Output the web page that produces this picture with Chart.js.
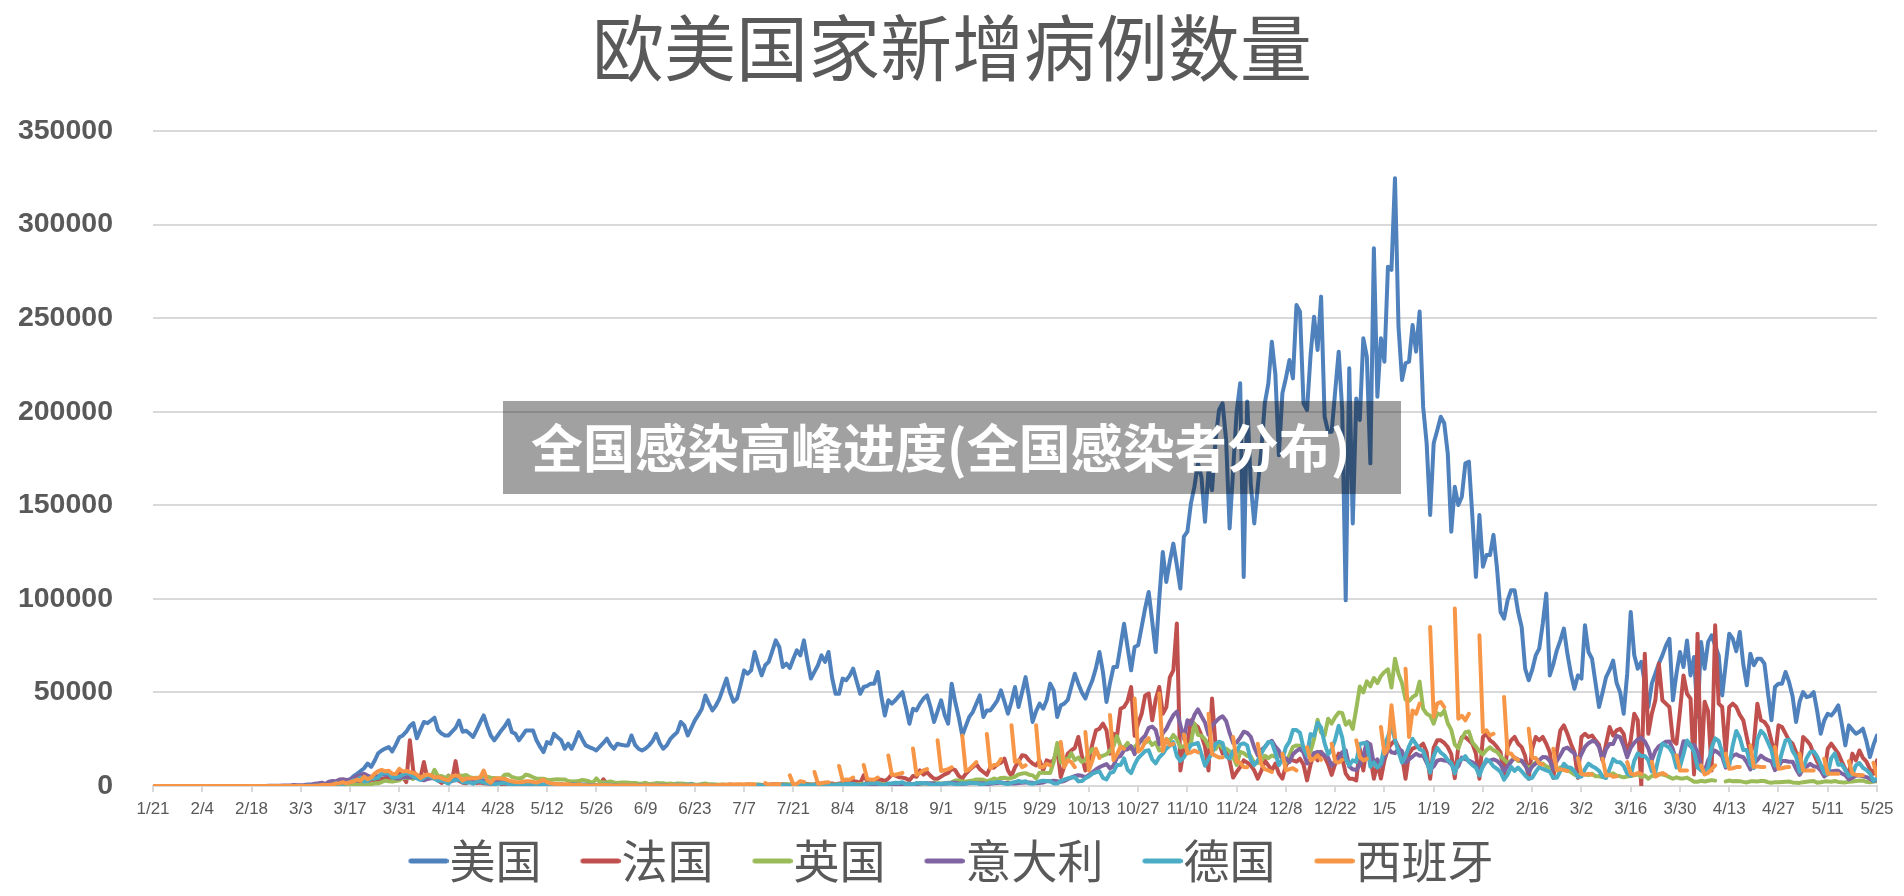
<!DOCTYPE html>
<html>
<head>
<meta charset="utf-8">
<script src="https://cdn.jsdelivr.net/npm/chart.js@4.4.1/dist/chart.umd.min.js"></script>
<style>
  html, body { margin: 0; padding: 0; background: #fff; }
  #wrap { width: 1904px; height: 896px; }
</style>
</head>
<body>
<div id="wrap"><canvas id="chart" width="1904" height="896"></canvas></div>
<script>
// Daily new cases, 2020-01-21 .. 2021-05-25 (one line per week, Mon..Sun)
const titleText = '欧美国家新增病例数量';
const bannerText = '全国感染高峰进度(全国感染者分布)';
const countryNames = ['美国', '法国', '英国', '意大利', '德国', '西班牙'];
const tickLabels = ['1/21','2/4','2/18','3/3','3/17','3/31','4/14','4/28','5/12','5/26','6/9','6/23',
  '7/7','7/21','8/4','8/18','9/1','9/15','9/29','10/13','10/27','11/10','11/24','12/8','12/22',
  '1/5','1/19','2/2','2/16','3/2','3/16','3/30','4/13','4/27','5/11','5/25'];

const usCases = [
  0,0,0,0,0,0,
  0,0,0,0,0,0,0,
  0,0,0,0,0,0,0,
  0,0,0,0,0,0,0,
  0,0,0,0,0,0,0,
  0,0,0,2,5,8,12,
  20,40,60,80,100,130,200,
  250,300,450,600,900,1300,1600,
  2500,3500,5200,6500,8000,9500,12000,
  10200,13500,17500,19000,20000,20800,18500,
  22000,26000,27000,29000,32000,33600,25500,
  30000,34200,33600,35000,36500,30000,28000,
  27000,27000,29000,31000,35000,29000,29500,
  28000,26200,30000,34000,37700,32000,27000,
  24400,27000,29700,32000,35100,28800,27900,
  24400,27000,29700,29700,29700,24400,21000,
  18100,23500,22600,27900,26000,24400,19900,
  22600,19900,24000,28800,25000,21700,20800,
  20000,19000,21000,23000,25300,22000,19900,
  22600,22000,21700,21700,27000,22000,19900,
  19000,20000,21700,24000,27900,23000,19900,
  21700,25000,27000,28800,34200,32400,27000,
  31000,35100,38000,41300,48400,44000,40400,
  43000,46700,52000,57400,50000,45000,46700,
  54000,61800,60000,61800,71600,65000,59100,
  64500,66300,72000,77800,74300,63600,65400,
  63100,68000,72500,69800,77800,67000,57400,
  61000,64500,69800,66300,71600,58000,49300,
  49300,57400,56500,59000,62700,56000,49300,
  52900,53500,54700,54700,60900,48000,37700,
  45800,44000,45800,48000,50200,42000,33300,
  41300,40400,44000,46700,48400,42000,34200,
  40000,45800,38000,33300,54700,45000,36900,
  27000,32000,36900,39500,44000,48400,36900,
  40400,40400,43000,45800,51100,45000,38600,
  45000,52900,42200,50000,58200,47500,34200,
  40000,44000,41300,45800,54700,51100,36900,
  43100,44000,46000,53000,60000,54700,50000,
  46700,52000,56500,63000,71600,60900,44900,
  55000,63600,63600,75000,86700,74000,61800,
  74300,75200,85000,95000,103700,88000,71600,
  100000,125000,109000,120000,129500,118000,105500,
  133200,135900,151000,160000,172400,165000,141200,
  168800,158100,184900,200900,204500,184900,137600,
  168800,200000,215200,111700,205400,161700,140300,
  160000,179500,204500,215000,237400,220000,176800,
  209800,218000,227600,217800,257000,253500,204500,
  200900,230000,250800,233000,261500,197300,189300,
  189300,210700,232100,200900,99200,223200,140300,
  207100,195600,239200,229400,172400,287300,208000,
  239200,226700,277500,275800,324800,245500,217000,
  225900,226700,246300,232100,253500,202700,183100,
  144800,183100,190000,197300,193800,177700,135900,
  159900,150100,154600,172400,173300,143900,111700,
  144800,117200,123400,123400,134200,116300,93000,
  89400,99200,104600,104600,93000,85000,62700,
  56500,62000,69800,73400,86700,102800,59100,
  65000,72500,77800,84100,70700,60000,52000,
  59100,57400,85900,71600,68000,55000,42200,
  50000,58200,62000,67000,55000,50000,38600,
  60000,93000,70000,62700,66300,55000,42200,
  54700,60000,65400,69800,75000,78700,45800,
  60000,71600,63600,77800,59100,68900,36900,
  77000,62700,77000,80500,75000,69800,48400,
  65000,81400,78700,72000,82300,65000,53800,
  70700,64500,68000,68000,65400,50000,35100,
  52900,54700,54700,60900,55600,48000,34200,
  45000,50200,47500,48000,50200,40000,27900,
  35000,38600,37700,40000,43100,33000,21700,
  32400,30000,27900,29000,30600,24000,15500,
  22000,27000
];

const franceCases = [
  0,0,0,0,0,0,
  0,0,0,0,0,0,0,
  0,0,0,0,0,0,0,
  0,0,0,0,0,0,0,
  0,0,0,0,0,0,0,
  0,0,4,20,0,43,30,
  60,20,73,138,190,336,177,
  286,372,497,595,785,838,924,
  1210,1097,1404,1861,1617,1847,1559,
  3838,2446,2931,3922,3809,4611,2599,
  4376,7578,4861,2116,24400,7788,5233,
  4267,12800,3777,4286,4342,3114,1613,
  2673,5497,2633,13300,2641,1773,1470,
  2489,2667,1653,1827,1500,1400,1100,
  1100,2900,1000,800,1200,1100,1000,
  600,1100,1600,1300,1300,580,900,
  480,800,1000,600,800,400,600,
  100,800,500,900,600,300,400,
  350,400,400,3600,1100,800,400,
  300,600,700,500,600,500,350,
  300,400,500,550,600,500,300,
  250,450,500,450,550,400,300,
  300,500,550,600,600,450,300,
  400,600,700,600,800,500,300,
  500,600,800,700,600,700,400,
  400,700,900,1000,800,900,500,
  700,1200,1000,1100,1400,1100,800,
  1000,1400,1400,1400,1300,1400,1000,
  1300,1800,1600,2500,2700,2300,1500,
  5700,2500,2800,3100,3500,3400,2600,
  4000,6200,5600,4700,4500,4000,3000,
  5400,4900,8300,6100,7400,5400,3900,
  3900,5000,6200,7000,9200,8500,5400,
  3900,6500,8500,10100,11600,9000,7500,
  6000,10100,9800,11600,12500,14600,8300,
  5300,10000,13000,16400,16000,13700,12000,
  11000,13700,8300,13700,12800,13700,19900,
  4800,10500,17300,19000,20300,26200,16000,
  8300,13700,22500,29700,30600,33300,29800,
  17300,27900,26700,41300,42200,45400,52900,
  26800,33400,38600,48400,49400,35100,46300,
  52900,38600,42000,58000,61800,86800,8300,
  20000,22200,35100,33000,31500,27000,21000,
  8300,46700,21800,22800,17300,17900,13700,
  4500,7500,10100,13700,12500,11000,8300,
  3900,8000,13700,11000,8300,12000,6600,
  3900,11000,14000,13700,13000,14600,11500,
  3000,11500,17300,13700,18200,15500,11600,
  5900,11800,17300,15000,6600,3900,3900,
  3000,19900,8300,20800,15000,3900,12000,
  4000,13700,20000,22600,24400,20800,16000,
  3900,17300,20000,20800,21000,22600,18000,
  3900,20400,24400,24400,23000,20800,17000,
  4200,20800,26000,26200,24400,22600,17300,
  3900,26200,27900,24400,23000,20800,18000,
  4300,20600,24400,26200,22600,20800,16000,
  3900,20000,26200,24400,26200,22600,18000,
  4300,18400,29700,32400,27900,22600,18000,
  4300,26200,27900,26200,27000,24400,22000,
  13700,22600,31500,27000,29700,30600,27900,
  17300,24400,38600,35100,0,70700,27900,
  38600,45800,65400,45800,44000,42200,24400,
  22600,40000,59100,49300,46700,6200,81400,
  8300,45000,40000,8300,85900,44000,42200,
  17300,42200,44000,42200,38000,35100,26000,
  17300,22600,44000,35100,34200,31500,24000,
  15500,32400,31500,28000,24400,22600,18000,
  8300,26200,24400,22000,17300,13000,10000,
  6000,19900,22600,20000,17300,13000,9000,
  6600,17300,13700,19000,15000,13000,9000,
  6600,13700
];

const ukCases = [
  0,0,0,0,0,0,
  0,0,0,0,2,0,0,
  0,0,0,0,0,0,0,
  0,0,0,0,0,0,0,
  0,0,0,0,0,0,0,
  0,0,3,0,5,12,10,
  13,4,11,34,29,48,43,
  67,48,52,83,134,117,174,
  152,407,676,643,714,1035,665,
  967,1427,1452,2129,2885,2546,2433,
  2619,3009,4324,4244,4450,3735,5903,
  3802,3634,5491,4344,8681,5233,5288,
  4342,5252,4603,4617,5599,5525,5850,
  4676,4301,4451,4583,5386,4913,4463,
  4309,3996,4076,6032,6201,4806,4339,
  3985,4406,6111,5614,4649,3896,3923,
  3877,3403,3242,3446,3560,3450,3534,
  2684,2412,2472,2615,3287,2959,2409,
  1625,4043,2004,2013,1887,2445,1936,
  1570,1871,1871,1805,1650,1557,1326,
  1205,1741,1003,1266,1541,1425,1514,
  1056,1279,1115,1346,1295,1221,958,
  1221,874,653,1118,1380,890,901,
  815,689,829,576,624,516,582,
  352,581,630,512,642,820,650,
  530,538,726,463,687,827,1036,
  827,445,560,769,768,767,747,
  685,581,763,846,880,743,744,
  938,670,891,950,871,758,1062,
  1148,1009,1182,1033,1441,1012,1040,
  713,1089,812,1182,1033,1288,1041,
  853,1184,1048,1522,1276,1108,1715,
  1406,1295,1508,1735,1940,2988,2948,
  2460,2420,2659,2919,3539,3497,3330,
  2621,3105,3991,3395,4322,4422,3899,
  4368,4926,6178,6634,6874,6042,5693,
  4044,7143,7108,6914,6968,12872,22961,
  12594,14542,14162,17540,13864,15166,12847,
  13972,17234,19724,18980,15650,16171,16982,
  18804,21331,26688,21242,20530,23012,19790,
  20890,22885,24701,23065,24405,21915,23254,
  18950,20018,25177,24141,27301,24957,20572,
  21350,20412,22950,33470,27301,26860,24962,
  21363,20051,19609,22915,20252,19875,18662,
  15450,11299,18213,17555,16022,15871,12155,
  12330,13430,16170,14879,16298,15539,17272,
  14718,12282,16578,20964,21672,21502,18447,
  20263,18450,25161,35383,28507,27052,35928,
  33364,36804,39237,39036,32725,34693,30501,
  41385,53135,50023,55892,53285,57725,54990,
  58784,60916,62322,52618,68053,59937,54940,
  46169,45533,47525,48682,55761,41346,38598,
  37535,33355,38905,37892,40261,33552,30004,
  22195,20089,25308,28680,29079,23275,21088,
  18607,16840,19202,20634,19114,18262,15845,
  14104,12364,13494,15144,13308,13313,10972,
  9765,10625,12718,12057,12027,10406,9834,
  10641,8489,9938,9985,8523,7434,6035,
  5455,6391,6385,5766,6573,5177,5177,
  4712,5766,5926,6753,5534,5177,4618,
  5089,5294,5758,6303,4802,5587,3862,
  5342,5379,6397,6187,5605,4715,3862,
  4654,4040,4052,4479,3402,2297,2297,
  2762,2379,2763,3150,2874,null,null,
  2472,2963,2491,2672,2596,2206,1882,
  2524,2524,2396,2729,2678,2026,1730,
  2064,1989,2166,2261,2381,1907,1671,
  1649,2052,2284,2490,2613,1770,1979,
  2357,2474,2284,2657,2193,2027,1926,
  2240,2412,2696,2874,2829,2235,1979,
  2439,2493
];

const italyCases = [
  0,0,0,0,0,0,
  0,0,0,0,2,0,0,
  0,0,0,0,0,0,1,
  0,0,0,0,0,0,0,
  0,0,0,0,17,59,76,
  74,93,131,202,233,240,566,
  342,466,587,769,778,1247,1492,
  1797,977,2313,2651,2547,3497,3590,
  3233,3526,4207,5322,5986,6557,5560,
  4789,5249,5210,6203,5909,5974,5217,
  4050,4053,4782,4668,4585,4805,4316,
  3599,3039,3836,4204,3951,4694,4092,
  3153,2972,2667,3786,3493,3491,3047,
  2256,2729,3370,2646,3021,2357,2324,
  1739,2091,2086,1872,1965,1900,1389,
  1221,1075,1444,1401,1327,1083,802,
  744,1402,888,992,789,875,675,
  451,813,665,642,652,669,531,
  300,397,584,593,516,416,355,
  178,318,321,177,518,270,197,
  280,283,202,379,163,346,338,
  301,210,329,333,251,262,224,
  218,122,190,296,259,175,174,
  126,142,187,201,223,235,192,
  208,138,193,229,276,188,234,
  169,114,162,230,233,249,219,
  190,129,282,306,252,275,255,
  170,181,212,289,386,379,295,
  239,190,384,402,552,347,463,
  259,412,481,523,574,629,479,
  320,403,642,845,947,1071,1210,
  953,878,1367,1411,1462,1444,1365,
  996,978,1326,1397,1733,1695,1297,
  1108,1370,1434,1597,1616,1501,1458,
  1008,1229,1452,1585,1907,1638,1587,
  1350,1392,1640,1786,1912,1869,1766,
  1494,1648,1851,2548,2499,2844,2578,
  2257,2677,3678,4458,5372,5724,5456,
  4619,5901,7332,8804,10010,10925,11705,
  9338,10874,15199,16079,19143,19644,21273,
  17012,21994,24991,26831,31084,31758,29907,
  22253,28244,30550,34505,37809,39811,32616,
  25271,35098,32961,37978,40902,37255,33979,
  27354,32191,34282,36176,37242,34767,28337,
  22930,23232,25853,29003,28352,26323,20648,
  16377,19350,20709,23225,24099,21052,18887,
  13720,14842,12756,16999,18727,19903,17938,
  12030,14844,17572,18236,17992,16308,15104,
  10872,13318,14522,18040,19037,10407,8913,
  8585,11212,16202,23477,22211,11831,14245,
  10800,15378,20331,18020,17533,19978,18627,
  12532,14242,15774,17246,16146,16310,12545,
  8824,10497,13571,14078,13633,13331,11629,
  8561,10593,15204,14372,13574,12715,11252,
  7925,10630,13189,13659,14218,13442,11641,
  7970,10404,12956,15146,14111,13532,11068,
  7351,10386,12074,13762,15479,15370,13452,
  8824,13314,16424,19886,20499,18916,17455,
  13114,17083,20884,22865,24036,23641,20765,
  13902,19749,22409,22409,26824,26062,21315,
  15267,20396,23059,24935,25735,23832,20159,
  13846,18765,21267,22339,23696,23839,19611,
  12916,16017,23904,23649,21261,21932,18025,
  10680,7767,13708,17221,18938,17567,15746,
  9789,13447,16168,16974,15943,15370,12694,
  8864,12074,13844,16232,14761,13817,13158,
  8444,10404,13385,13382,12965,12965,9148,
  5948,9116,10404,11807,10554,10176,8292,
  5080,6946,7852,8085,8085,6659,5753,
  3455,4452,5506,5741,5218,4717,3995,
  2490,3224
];

const germanyCases = [
  0,0,0,0,0,0,
  0,1,3,0,1,0,0,
  0,0,0,0,0,0,0,
  0,0,0,0,0,0,0,
  0,0,0,0,0,0,0,
  0,1,10,19,2,31,51,
  29,37,66,220,188,129,241,
  136,281,451,170,1597,910,1210,
  1477,1985,3070,2993,4528,2365,2660,
  4183,3930,4337,6615,6933,6824,4400,
  4790,4923,6064,6922,6365,4933,4031,
  3251,4289,5633,4885,3990,2737,2946,
  2218,1287,3394,2945,3699,1945,1842,
  1881,1226,2357,2481,1870,1514,1257,
  988,1154,1627,1470,1068,890,697,
  685,947,1284,1209,1251,667,1251,
  357,933,1157,1049,1068,620,583,
  342,685,797,460,745,638,431,
  289,432,353,741,738,620,301,
  286,213,342,394,507,407,301,
  214,350,555,192,770,241,252,
  192,345,580,770,601,687,537,
  1006,503,587,630,477,256,262,
  298,466,503,446,420,239,219,
  358,397,442,380,530,396,159,
  159,583,534,395,583,466,261,
  249,454,570,815,781,305,340,
  633,684,902,870,955,240,509,
  879,741,1045,1147,1122,555,436,
  966,1226,1445,1449,1415,625,561,
  1390,1510,1707,1586,2034,784,1278,
  711,1576,1507,1571,1479,782,610,
  1218,1256,1311,1453,1378,988,814,
  1499,1176,1892,1484,1630,941,1106,
  1407,1901,1769,2194,1917,1345,922,
  1769,2089,2673,2153,2507,1411,1192,
  1798,2503,2844,2673,2563,1382,1306,
  2639,3390,4058,4516,4721,2467,2639,
  4122,5132,6638,7334,7830,4325,3483,
  6868,7595,11287,11242,14714,8685,6868,
  11409,14964,16774,18681,19059,14177,12097,
  15352,17214,19990,21506,23399,16017,13363,
  15332,18487,21866,22461,22964,16947,10824,
  14419,17561,22609,23648,22964,15741,14611,
  18633,18350,22268,22806,21695,14054,11169,
  13604,17270,20815,23449,23318,17767,11169,
  14054,20815,23679,29875,29875,28438,20200,
  16362,27728,26923,33777,31300,22771,17000,
  19528,24740,32195,26000,14455,10976,13755,
  12892,22459,22924,22909,10315,12690,9847,
  11897,21237,26391,31849,24694,18218,12497,
  15974,21237,25164,22368,19600,18678,13882,
  7141,15974,20398,17862,16417,13882,12257,
  6729,13202,14211,15974,12908,11192,9847,
  5608,10566,14211,12908,10485,9164,7520,
  3379,6114,10237,8072,9860,7862,5608,
  3856,4426,7556,10207,9113,8354,7676,
  4369,4426,8007,11869,9997,9762,7890,
  4732,5011,9019,11912,10580,9557,8103,
  5011,4252,9146,14356,12834,12674,10790,
  6604,5480,13435,17504,16033,16033,13733,
  7709,7485,15813,22657,21573,20472,17176,
  9872,10360,17051,24300,21888,18129,9872,
  8497,6885,9677,20407,25464,24097,17855,
  10633,10810,21693,29426,25831,19185,19185,
  11437,9609,24884,29518,27543,23392,19185,
  10976,10976,18034,24329,24736,18773,15685,
  7534,9160,14909,18034,18485,15685,11476,
  6922,6125,14909,17419,11336,11476,8500,
  5412,6125,11040,12298,9769,8500,6714,
  2682,4209
];

// Spain stopped weekend reporting in summer 2020: Sat/Sun are gaps, Monday carries the weekend
const spainCases = [
  0,0,0,0,0,0,
  0,0,0,0,0,0,0,
  0,0,0,0,0,0,0,
  0,0,0,0,0,0,0,
  0,0,0,0,0,0,0,
  0,2,4,5,8,13,27,
  30,45,37,57,66,116,124,
  500,500,600,800,1300,1500,2000,
  1438,1987,2538,3431,2833,4946,3646,
  4517,6584,7937,8578,7871,8189,6549,
  6398,9222,7719,8102,7472,7026,6023,
  4273,5478,6180,5756,4576,4830,4167,
  3477,3045,5103,5700,5200,3000,4000,
  4000,4200,4200,4600,8300,2900,1700,
  3900,4200,4000,3800,3000,2500,2100,
  2000,2100,2600,2500,2200,1800,2500,
  3400,2000,1500,1200,1100,900,900,
  900,600,500,700,500,400,300,
  300,400,400,500,500,400,300,
  300,400,400,350,400,350,300,
  300,350,400,350,400,300,250,
  300,350,400,450,400,350,300,
  350,400,400,450,500,400,300,
  400,500,600,700,800,800,900,
  900,800,900,900,900,null,null,
  1500,700,800,900,1000,null,null,
  5700,800,1300,2600,2200,null,null,
  7500,1200,1500,1900,2000,null,null,
  10700,3000,3500,3400,4500,null,null,
  11200,3600,3500,3400,4500,null,null,
  16300,6000,6000,6500,7000,null,null,
  20000,6000,7000,8300,9000,null,null,
  24400,8000,8500,9000,10000,null,null,
  27000,8000,9000,10800,12800,null,null,
  27800,9400,11200,11300,14400,null,null,
  32400,12800,13700,10100,11000,null,null,
  32400,10100,10100,11900,11000,null,null,
  23500,10100,13700,12800,10100,null,null,
  28800,8300,13700,19900,15000,null,null,
  38000,13900,17000,21000,19900,null,null,
  46700,18400,19800,23600,25600,null,null,
  49300,18700,25000,21900,22500,null,null,
  27500,17400,17900,19000,18000,null,null,
  38600,17000,16200,15200,15300,null,null,
  26200,13000,12300,10200,10000,null,null,
  22600,11700,9000,8300,7500,null,null,
  17300,8300,9000,9500,8300,null,null,
  20800,13700,14600,16400,14000,null,null,
  22600,13000,12500,14000,null,null,null,
  24400,15500,13700,14500,null,null,null,
  31500,17300,20000,43100,26200,null,null,
  62700,26200,40400,38600,44000,null,null,
  84900,36900,44000,44900,42200,null,null,
  94800,36000,37500,35100,38600,null,null,
  80500,28800,29700,27000,27900,null,null,
  47500,17300,17300,15000,14000,null,null,
  30600,15000,15000,12000,11500,null,null,
  19900,8300,9000,8500,8000,null,null,
  15000,6500,6000,6500,6000,null,null,
  14600,5500,6000,5000,5200,null,null,
  12800,6600,6000,7000,6500,null,null,
  13000,5000,6000,7000,6000,null,null,
  16400,8300,8300,8300,null,null,null,
  11000,6200,7000,9000,11000,null,null,
  17300,9200,9500,10100,10100,null,null,
  21700,10100,10500,10100,10100,null,null,
  20800,9200,9500,10000,10100,null,null,
  17300,8300,8300,8300,8300,null,null,
  14600,6600,6600,6600,6600,null,null,
  13300,6600,6000,5700,5700,null,null,
  12400,5500
];

const seriesColors = ['#4F81BD', '#C0504D', '#9BBB59', '#8064A2', '#4BACC6', '#F79646'];
const allSeries = [usCases, franceCases, ukCases, italyCases, germanyCases, spainCases];
const dayIndex = usCases.map((_, i) => i);

// short rounded line for the legend key, drawn near the right end of its canvas
// so that it sits right against the label text
function legendKey(color) {
  const c = document.createElement('canvas');
  c.width = 82;
  c.height = 10;
  const g = c.getContext('2d');
  g.strokeStyle = color;
  g.lineWidth = 5;
  g.lineCap = 'round';
  g.beginPath();
  g.moveTo(44.5, 5);
  g.lineTo(79.5, 5);
  g.stroke();
  return c;
}
const legendKeys = seriesColors.map(legendKey);

const banner = {
  id: 'banner',
  // the keys leave an empty strip on the left of each item; pull the row back to centre
  afterLayout(chart) {
    chart.legend.left -= 11;
    chart.legend.right -= 11;
  },
  afterDraw(chart) {
    const ctx = chart.ctx;
    ctx.save();
    ctx.fillStyle = 'rgba(0,0,0,0.37)';
    ctx.fillRect(503, 401, 898, 93);
    ctx.fillStyle = '#ffffff';
    ctx.font = 'bold 52px "Noto Sans CJK SC"';
    ctx.textBaseline = 'middle';
    ctx.textAlign = 'left';
    ctx.fillText(bannerText, 531, 448);
    ctx.restore();
  }
};

const datasets = allSeries.map((values, i) => ({
  label: countryNames[i],
  data: values,
  yAxisID: 'y',
  borderColor: seriesColors[i],
  backgroundColor: seriesColors[i],
  borderWidth: 4,
  pointRadius: 0,
  tension: 0,
  fill: false,
  spanGaps: false,
  borderJoinStyle: 'round',
  borderCapStyle: 'round',
  order: allSeries.length - i
}));

new Chart(document.getElementById('chart'), {
  type: 'line',
  data: { labels: dayIndex, datasets },
  plugins: [banner],
  options: {
    responsive: false,
    animation: false,
    events: [],
    layout: { padding: { left: 0, right: 0, top: 0, bottom: 2 } },
    plugins: {
      tooltip: { enabled: false },
      title: {
        display: true,
        text: titleText,
        color: '#595959',
        font: { family: '"Noto Sans CJK SC"', size: 72, weight: 'normal', lineHeight: 1.2 },
        padding: { top: 4, bottom: 40.6 }
      },
      legend: {
        position: 'bottom',
        labels: {
          color: '#595959',
          font: { family: '"Noto Sans CJK SC"', size: 46 },
          usePointStyle: true,
          pointStyleWidth: 38,
          padding: 19,
          generateLabels: chart => chart.data.datasets.map((ds, i) => ({
            text: ds.label,
            pointStyle: legendKeys[i],
            fillStyle: ds.borderColor,
            strokeStyle: ds.borderColor,
            fontColor: '#595959',
            lineWidth: 0,
            hidden: false,
            datasetIndex: i
          }))
        }
      }
    },
    scales: {
      x: {
        type: 'linear',
        min: 0,
        max: 490,
        afterFit: scale => { scale.height = 33; },
        grid: { drawOnChartArea: false, drawTicks: true, tickLength: 6, color: '#d9d9d9', lineWidth: 2 },
        border: { display: true, color: '#d9d9d9', width: 2 },
        ticks: {
          stepSize: 14,
          autoSkip: false,
          maxRotation: 0,
          padding: 7,
          color: '#595959',
          font: { family: '"Liberation Sans"', size: 17 },
          callback: v => tickLabels[Math.round(v / 14)]
        }
      },
      y: {
        min: 0,
        max: 350000,
        afterFit: scale => { scale.width = 153; },
        grid: { color: '#d9d9d9', lineWidth: 2, drawTicks: false },
        border: { display: false },
        ticks: {
          stepSize: 50000,
          padding: 40,
          color: '#595959',
          font: { family: '"Liberation Sans"', size: 28.5, weight: 'bold' },
          callback: v => String(v)
        }
      },
      // empty right-hand strip so the plot ends where the reference ends
      // while title and legend stay centred on the whole canvas
      rightGap: {
        type: 'linear',
        position: 'right',
        afterFit: scale => { scale.width = 27; },
        grid: { display: false },
        border: { display: false },
        ticks: { display: false }
      }
    }
  }
});
</script>
</body>
</html>
